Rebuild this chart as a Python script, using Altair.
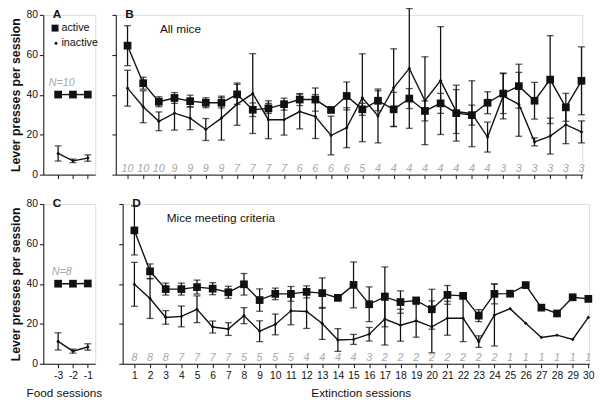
import altair as alt
import pandas as pd

# ---------------- data ----------------
food_sessions = [-3, -2, -1]
ext_sessions = list(range(1, 31))

# Panel A (food sessions, all mice, N=10)
a_active = [40.1, 40.1, 40.1]
a_active_sem = [0, 0, 0]
a_inactive = [10.6, 6.9, 8.3]
a_inactive_sem = [3.8, 0.9, 1.6]

# Panel C (food sessions, mice meeting criteria, N=8)
c_active = [40.1, 40.1, 40.2]
c_active_sem = [0, 0, 0]
c_inactive = [11.2, 6.3, 8.4]
c_inactive_sem = [4.3, 1.0, 1.6]

# Panel B (extinction, all mice)
b_active = [64.6, 45.8, 36.5, 38.4, 36.8, 36.0, 36.0, 40.2, 32.5, 33.2,
            35.3, 37.6, 37.6, 32.4, 39.4, 32.7, 37.0, 32.7, 38.1, 31.9,
            35.7, 30.8, 29.8, 36.0, 40.6, 44.3, 37.0, 47.6, 33.7, 47.0]
b_active_sem = [10, 3, 2.5, 2.7, 3, 2.5, 2.6, 5, 3.4, 2.5,
                3, 3, 5.8, 1, 7, 3, 5, 8.5, 5, 5,
                5, 14, 5, 5.5, 10, 11, 9.2, 22, 7, 17]
b_inactive = [43.3, 34.0, 26.7, 30.8, 28.3, 22.6, 28.3, 35.3, 40.6, 27.5,
              27.5, 31.6, 29.1, 19.6, 23.5, 38.5, 29.4, 43.5, 53.2, 37.0,
              47.1, 31.6, 30.5, 18.8, 39.4, 35.2, 16.4, 19.3, 25.0, 21.4]
b_inactive_sem = [9, 8, 4.7, 8.5, 5.8, 5.5, 11, 10.6, 20, 9.5,
                  7.7, 8.7, 11, 9.7, 10, 22, 13.5, 19.5, 30, 22,
                  27, 11, 16.5, 7.5, 11.5, 16, 2, 9, 9.5, 5.5]
b_n = [10, 10, 10, 9, 9, 9, 9, 7, 7, 7, 7, 6, 6, 6, 6,
       5, 4, 4, 4, 4, 4, 4, 4, 4, 3, 3, 3, 3, 3, 3]

# Panel D (extinction, mice meeting criteria)
d_active = [66.8, 46.3, 37.4, 37.4, 38.4, 37.6, 35.8, 39.8, 31.9, 35.0,
            35.0, 36.0, 35.4, 33.0, 39.5, 29.8, 33.5, 30.9, 31.7, 27.3,
            34.5, 34.0, 24.1, 35.0, 35.1, 39.4, 28.1, 25.2, 33.3, 32.5]
d_active_sem = [12.3, 3.7, 3.0, 3.0, 3.5, 3.0, 3.0, 5.4, 5.6, 2.9,
                3.7, 3.0, 7.6, 0.5, 11.5, 8.7, 15, 5.6, 1.5, 10,
                4.7, 0.5, 3, 5, 0, 0, 0, 0, 0, 0]
d_inactive = [39.8, 32.7, 23.2, 23.7, 27.3, 18.4, 17.4, 24.1, 16.3, 19.7,
              26.5, 26.2, 20.2, 11.9, 12.2, 14.8, 22.4, 19.3, 21.5, 18.5,
              22.8, 22.8, 11.1, 24.4, 27.6, 20.3, 13.2, 14.3, 12.2, 23.2]
d_inactive_sem = [11, 10, 3.4, 5.2, 6.7, 3, 3.2, 4, 5.2, 5.2,
                  7, 8.5, 8, 5.7, 2.5, 3.4, 13, 8, 8.2, 13,
                  8.5, 11.7, 2.9, 15.5, 0, 0, 0, 0, 0, 0]
d_n = [8, 8, 8, 7, 7, 7, 7, 5, 5, 5, 5, 4, 4, 4, 4,
       3, 2, 2, 2, 2, 2, 2, 2, 2, 1, 1, 1, 1, 1, 1]

legend_labels = ["active", "inactive"]
FONT = "Liberation Sans"
INK = "#111111"
GREY = "#a8a8a8"


def long_df(x, act, act_sem, inact, inact_sem):
    rows = []
    for i, xv in enumerate(x):
        rows.append(dict(session=xv, series="active", mean=act[i], sem=act_sem[i]))
        rows.append(dict(session=xv, series="inactive", mean=inact[i], sem=inact_sem[i]))
    df = pd.DataFrame(rows)
    df["lo"] = df["mean"] - df["sem"]
    df["hi"] = df["mean"] + df["sem"]
    return df


def panel(df, xdomain, xvalues, width, height, bottom, food, letter,
          subtitle=None, n_df=None, n_label=None, legend=False):
    xs = alt.Scale(domain=xdomain, nice=False, zero=False)
    ys = alt.Scale(domain=[0, 80], nice=False)
    xaxis_kw = dict(values=xvalues, grid=False, tickSize=4, labels=bottom,
                    labelFontSize=10.5, labelPadding=3, labelFont=FONT,
                    labelColor=INK, domainColor=INK, tickColor=INK,
                    labelOverlap=False, labelFlush=False,
                    labelExpr="'' + datum.value")
    if bottom:
        xaxis_kw.update(title="Food sessions" if food else "Extinction sessions",
                        titleFontSize=12, titleFontWeight="normal", titleFont=FONT,
                        titleColor=INK, titlePadding=7,
                        titleX=21 if food else 243)
    else:
        xaxis_kw.update(title=None)
    xaxis = alt.Axis(**xaxis_kw)
    yaxis_kw = dict(values=[0, 20, 40, 60, 80], grid=False, tickSize=4,
                    labels=food, labelFontSize=10.5, labelPadding=2, labelFont=FONT,
                    labelColor=INK, domainColor=INK, tickColor=INK,
                    labelOverlap=False, labelFlush=False)
    if food:
        yaxis_kw.update(title="Lever presses per session", titleFontSize=12.5,
                        titleFontWeight="bold", titleFont=FONT, titleColor=INK,
                        titlePadding=4)
    else:
        yaxis_kw.update(title=None)
    yaxis = alt.Axis(**yaxis_kw)

    X = alt.X("session:Q", scale=xs, axis=xaxis)

    def Y(f):
        return alt.Y(f, scale=ys, axis=yaxis)

    base = alt.Chart(df)
    err = base.transform_filter("datum.sem > 0")
    rule = err.mark_rule(color=INK, strokeWidth=1.3).encode(
        x=X, y=Y("lo:Q"), y2="hi:Q")
    cap_lo = err.mark_tick(orient="horizontal", size=7, thickness=1.3, color=INK).encode(
        x=X, y=Y("lo:Q"))
    cap_hi = err.mark_tick(orient="horizontal", size=7, thickness=1.3, color=INK).encode(
        x=X, y=Y("hi:Q"))
    line = base.mark_line(color=INK, strokeWidth=1.4).encode(
        x=X, y=Y("mean:Q"), detail="series:N")
    act = base.transform_filter("datum.series == 'active'").mark_point(
        shape="square", filled=True, size=62, color=INK, opacity=1).encode(
        x=X, y=Y("mean:Q"))
    inact = base.transform_filter("datum.series == 'inactive'").mark_point(
        shape="diamond", filled=True, size=14, color=INK, opacity=1).encode(
        x=X, y=Y("mean:Q"))
    layers = [rule, cap_lo, cap_hi, line, act, inact]

    let = alt.Chart(pd.DataFrame({"t": [letter]})).mark_text(
        font=FONT, fontSize=12, fontWeight="bold", color=INK, align="center",
        baseline="alphabetic").encode(text="t:N", x=alt.value(14), y=alt.value(3))
    layers.append(let)
    if subtitle:
        sub = alt.Chart(pd.DataFrame({"t": [subtitle]})).mark_text(
            font=FONT, fontSize=12, color=INK, align="left",
            baseline="alphabetic").encode(text="t:N", x=alt.value(45), y=alt.value(18))
        layers.append(sub)
    if n_df is not None:
        nt = alt.Chart(n_df).mark_text(
            font=FONT, fontSize=11, fontStyle="italic", color=GREY, align="center",
            baseline="alphabetic").encode(x=X, y=Y("ypos:Q"), text="n:N")
        layers.append(nt)
    if n_label:
        nl = alt.Chart(pd.DataFrame({"session": [-2.75], "ypos": [44.5],
                                     "t": [n_label]})).mark_text(
            font=FONT, fontSize=11, fontStyle="italic", color=GREY, align="center",
            baseline="alphabetic").encode(text="t:N", x=X, y=Y("ypos:Q"))
        layers.append(nl)
    if legend:
        lg = pd.DataFrame({"label": legend_labels})
        sq = alt.Chart(lg).transform_filter("datum.label == 'active'").mark_point(
            shape="square", filled=True, size=50, color=INK, opacity=1).encode(
            x=alt.value(12), y=alt.value(13.5))
        dm = alt.Chart(lg).transform_filter("datum.label == 'inactive'").mark_point(
            shape="diamond", filled=True, size=14, color=INK, opacity=1).encode(
            x=alt.value(13), y=alt.value(29))
        t1 = alt.Chart(lg).transform_filter("datum.label == 'active'").mark_text(
            font=FONT, fontSize=11, color=INK, align="left", baseline="middle").encode(
            text="label:N", x=alt.value(18.5), y=alt.value(13.5))
        t2 = alt.Chart(lg).transform_filter("datum.label == 'inactive'").mark_text(
            font=FONT, fontSize=11, color=INK, align="left", baseline="middle").encode(
            text="label:N", x=alt.value(18.5), y=alt.value(29))
        layers += [sq, dm, t1, t2]

    return alt.layer(*layers).properties(width=width, height=height)


df_a = long_df(food_sessions, a_active, a_active_sem, a_inactive, a_inactive_sem)
df_c = long_df(food_sessions, c_active, c_active_sem, c_inactive, c_inactive_sem)
df_b = long_df(ext_sessions, b_active, b_active_sem, b_inactive, b_inactive_sem)
df_d = long_df(ext_sessions, d_active, d_active_sem, d_inactive, d_inactive_sem)
n_b = pd.DataFrame({"session": ext_sessions, "n": b_n, "ypos": [1.5] * 30})
n_d = pd.DataFrame({"session": ext_sessions, "n": d_n, "ypos": [1.5] * 30})

H = 163
pA = panel(df_a, [-4, -0.5], food_sessions, 53, H, False, True, "A",
           n_label="N=10", legend=True)
pB = panel(df_b, [0.25, 30.05], ext_sessions, 476, H, False, False, "B",
           subtitle="All mice", n_df=n_b)
pC = panel(df_c, [-4, -0.5], food_sessions, 53, H, True, True, "C", n_label="N=8")
pD = panel(df_d, [0.25, 30.05], ext_sessions, 476, H, True, False, "D",
           subtitle="Mice meeting criteria", n_df=n_d)

row1 = alt.hconcat(pA, pB, spacing=12)
row2 = alt.hconcat(pC, pD, spacing=15)
chart = alt.vconcat(row1, row2, spacing=16).properties(
    padding={"left": 0, "top": -5, "right": 0, "bottom": 0}
).configure_view(stroke=None).configure(font=FONT)

chart.save("out.html", embed_options={"renderer": "svg", "actions": False})
